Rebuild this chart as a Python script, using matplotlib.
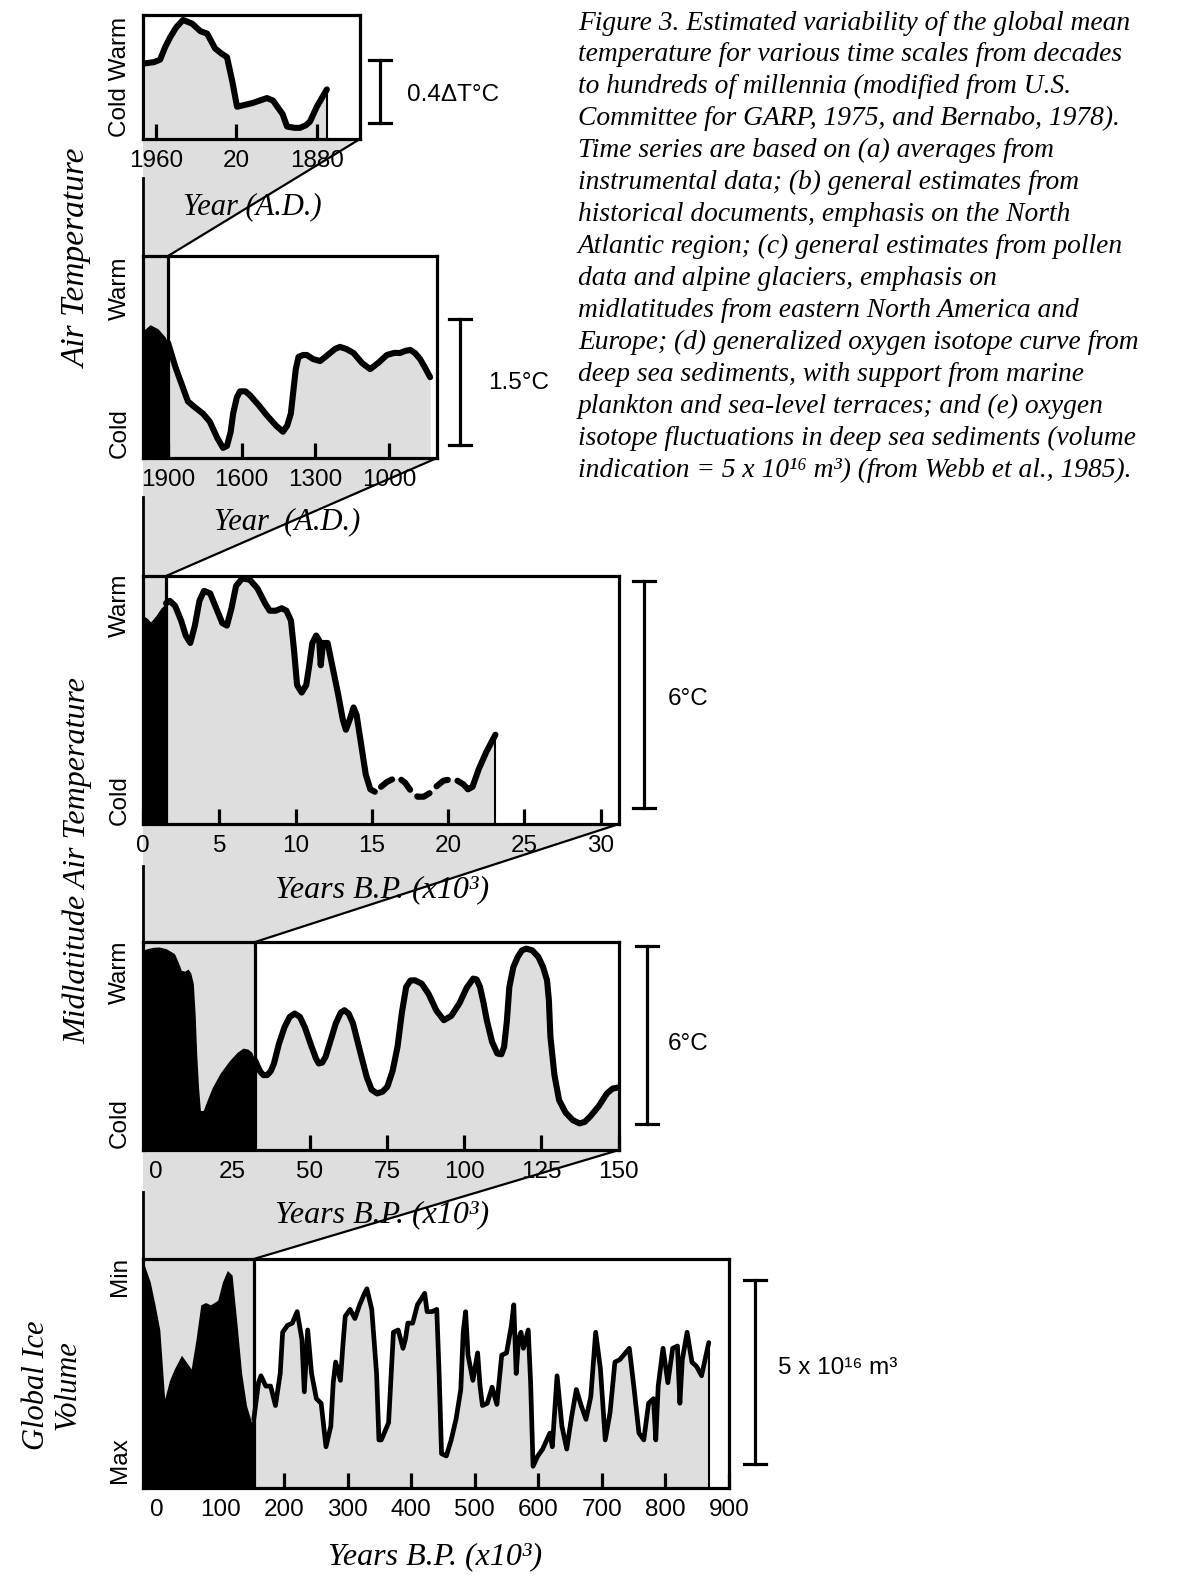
import numpy as np
import matplotlib
matplotlib.use("Agg")
import matplotlib.pyplot as plt

plt.rcParams['font.family'] = ['Liberation Sans', 'DejaVu Sans']

W, H = 1181, 1578
GRAY = "#dedede"
SERIF = ['Liberation Serif', 'DejaVu Serif']

# ---------------- data (0 = cold / max ice, 1 = warm / min ice) ----------------
# (a) instrumental averages, years A.D.
a_year = [1965.5, 1961, 1958, 1955.5, 1953, 1950, 1946.6, 1942, 1938, 1934.6, 1930.6,
          1927.5, 1924.7, 1922, 1919.7, 1912, 1904.8, 1901.8, 1897, 1894.8, 1891,
          1888.4, 1885.5, 1883.4, 1880, 1875]
a_temp = [0.61, 0.62, 0.64, 0.74, 0.82, 0.90, 0.96, 0.93, 0.87, 0.85, 0.73,
          0.69, 0.66, 0.46, 0.26, 0.29, 0.33, 0.31, 0.20, 0.10, 0.09,
          0.09, 0.11, 0.14, 0.26, 0.40]
a_ticks = [1960, 1920, 1880]
a_ticklabels = ['1960', '20', '1880']

# (b) historical documents, years A.D.
b_strip_year = [2002, 1973, 1941, 1912, 1900]
b_strip_temp = [0.63, 0.66, 0.64, 0.60, 0.57]
b_year = [1900, 1870, 1840, 1819, 1790, 1758, 1730, 1700, 1676, 1660, 1645, 1635, 1620,
          1607, 1585, 1566, 1530, 1497, 1460, 1432, 1415, 1400, 1390, 1380, 1369, 1350,
          1335, 1310, 1281, 1260, 1240, 1220, 1200, 1175, 1145, 1110, 1077, 1045, 1009,
          980, 955, 935, 914, 895, 874, 855, 833]
b_temp = [0.57, 0.45, 0.35, 0.28, 0.25, 0.22, 0.18, 0.10, 0.05, 0.06, 0.13, 0.22, 0.30,
          0.33, 0.33, 0.31, 0.26, 0.21, 0.16, 0.13, 0.16, 0.22, 0.33, 0.44, 0.50, 0.51,
          0.51, 0.49, 0.48, 0.50, 0.52, 0.54, 0.55, 0.54, 0.52, 0.47, 0.44, 0.47, 0.51,
          0.52, 0.52, 0.53, 0.535, 0.52, 0.49, 0.45, 0.40]
b_ticks = [1900, 1600, 1300, 1000]

# (c) pollen and alpine glaciers, thousand years B.P.
c_strip_k = [0.0, 0.27, 0.5, 0.84, 1.17, 1.51]
c_strip_v = [0.84, 0.83, 0.815, 0.84, 0.87, 0.89]
c_k = [1.51, 1.75, 2.1, 2.5, 2.8, 3.1, 3.4, 3.7, 4.0, 4.4, 4.8, 5.2, 5.5, 5.8, 6.1, 6.5,
       7.0, 7.5, 8.0, 8.3, 8.7, 9.1, 9.4, 9.7, 9.9, 10.1, 10.4, 10.7, 10.9, 11.1, 11.35,
       11.55, 11.65, 11.8, 12.1, 12.4, 12.8, 13.1, 13.3, 13.6, 13.8, 14.0, 14.3, 14.6,
       14.9, 15.2]
c_v = [0.89, 0.90, 0.88, 0.82, 0.76, 0.73, 0.80, 0.90, 0.94, 0.93, 0.87, 0.81, 0.80,
       0.87, 0.96, 0.99, 0.985, 0.95, 0.89, 0.86, 0.86, 0.87, 0.86, 0.82, 0.70, 0.56,
       0.53, 0.56, 0.64, 0.73, 0.76, 0.74, 0.64, 0.73, 0.73, 0.64, 0.52, 0.42, 0.38,
       0.43, 0.47, 0.44, 0.32, 0.20, 0.14, 0.13]
c_gap_k = [15.6, 16.0, 16.5, 16.9, 17.2, 17.6, 18.0, 18.4, 18.8, 19.2, 19.7, 20.2, 20.6,
           21.0, 21.3]
c_gap_v = [0.15, 0.17, 0.185, 0.18, 0.165, 0.13, 0.11, 0.11, 0.125, 0.15, 0.175, 0.18,
           0.175, 0.16, 0.14]
c_end_k = [21.3, 21.6, 22.0, 22.5, 23.1]
c_end_v = [0.14, 0.15, 0.22, 0.29, 0.36]
c_ticks = [0, 5, 10, 15, 20, 25, 30]

# (d) generalized oxygen isotope curve, thousand years B.P.
d_strip_k = [-4, -2.7, -0.5, 1.2, 3.5, 6.2, 7.5, 8.4, 9.5, 10.6, 11.5, 12.3, 12.9, 13.4,
             14.0, 14.6, 15.5, 16.5, 18.4, 21.0, 24.0, 26.5, 28.4, 30.0, 31.2, 32.3]
d_strip_v = [0.96, 0.968, 0.975, 0.976, 0.968, 0.944, 0.90, 0.864, 0.86, 0.87, 0.85,
             0.80, 0.65, 0.46, 0.30, 0.19, 0.19, 0.23, 0.30, 0.37, 0.43, 0.47, 0.49,
             0.485, 0.47, 0.43]
d_k = [32.3, 33.2, 34.0, 35.0, 36.2, 37.4, 38.4, 40.0, 41.8, 43.5, 45.1, 46.8, 48.4,
       50.5, 52.0, 52.9, 54.0, 55.1, 56.8, 58.4, 60.0, 61.2, 62.6, 64.0, 66.0, 68.4,
       70.0, 71.8, 73.5, 75.1, 76.8, 78.4, 79.8, 81.2, 82.6, 84.0, 86.2, 88.4, 91.0,
       93.4, 95.8, 98.4, 100.8, 102.9, 104.0, 105.1, 106.2, 107.3, 109.0, 110.7, 112.0,
       112.9, 113.8, 114.6, 115.9, 117.3, 118.7, 120.1, 122.0, 124.0, 125.5, 126.8,
       127.4, 127.9, 129.2, 130.7, 132.8, 135.1, 137.3, 139.0, 140.7, 143.5, 146.2,
       148.0, 149.6]
d_v = [0.43, 0.40, 0.376, 0.36, 0.36, 0.38, 0.416, 0.51, 0.59, 0.64, 0.656, 0.64, 0.59,
       0.50, 0.44, 0.416, 0.42, 0.448, 0.53, 0.608, 0.66, 0.672, 0.655, 0.608, 0.49,
       0.352, 0.29, 0.272, 0.28, 0.304, 0.38, 0.496, 0.66, 0.784, 0.815, 0.816, 0.80,
       0.752, 0.67, 0.624, 0.645, 0.704, 0.78, 0.824, 0.82, 0.784, 0.71, 0.624, 0.52,
       0.464, 0.46, 0.496, 0.62, 0.784, 0.88, 0.928, 0.96, 0.968, 0.96, 0.928, 0.88,
       0.816, 0.72, 0.544, 0.36, 0.24, 0.18, 0.144, 0.128, 0.135, 0.16, 0.21, 0.272,
       0.295, 0.30]
d_ticks = [0, 25, 50, 75, 100, 125, 150]

# (e) oxygen isotope fluctuations (global ice volume), thousand years B.P.
e_strip_k = [-22, -10.6, -3.0, 4.5, 12.1, 19.7, 27.3, 38.6, 46.2, 53.8, 61.4, 68.9, 76.5,
             84.1, 95.5, 103.0, 110.6, 118.2, 125.8, 133.3, 140.9, 148.5, 152.3]
e_strip_v = [0.99, 0.90, 0.80, 0.69, 0.39, 0.47, 0.52, 0.58, 0.55, 0.52, 0.65, 0.80, 0.81,
             0.80, 0.82, 0.90, 0.95, 0.93, 0.72, 0.50, 0.36, 0.29, 0.30]
e_k = [152.3, 159.8, 163.6, 171.2, 178.8, 186.4, 193.9, 197.7, 205.3, 212.9,
       220.5, 228.0, 231.8, 237.1, 243.2, 250.8, 258.3, 265.9, 273.5, 277.3,
       281.1, 288.6, 292.4, 296.2, 303.8, 311.4, 318.9, 326.5, 330.3, 337.9,
       345.5, 349.2, 353.0, 364.4, 372.0, 379.5, 387.1, 390.9, 394.7, 402.3,
       409.8, 421.2, 425.0, 432.6, 440.2, 443.9, 447.7, 455.3, 462.9, 470.5,
       478.0, 481.8, 485.6, 489.4, 497.0, 504.5, 508.3, 512.1, 519.7, 527.3,
       534.8, 542.4, 550.0, 557.6, 561.4, 565.2, 568.9, 572.7, 576.5, 584.1,
       587.9, 591.7, 599.2, 606.8, 618.2, 622.0, 629.5, 637.1, 644.7, 652.3,
       659.8, 667.4, 675.0, 682.6, 690.2, 697.7, 705.3, 712.9, 720.5, 728.0,
       743.2, 750.8, 758.3, 765.9, 773.5, 781.1, 784.8, 788.6, 796.2, 803.8,
       811.4, 818.9, 822.7, 826.5, 834.1, 841.7, 849.2, 856.8, 868.2]
e_v = [0.30, 0.46, 0.49, 0.445, 0.445, 0.36, 0.50, 0.68, 0.71, 0.72,
       0.77, 0.65, 0.42, 0.69, 0.50, 0.39, 0.37, 0.18, 0.27, 0.46,
       0.55, 0.47, 0.62, 0.75, 0.78, 0.74, 0.80, 0.85, 0.87, 0.78,
       0.50, 0.21, 0.21, 0.285, 0.68, 0.69, 0.61, 0.65, 0.72, 0.72,
       0.80, 0.85, 0.77, 0.77, 0.78, 0.50, 0.15, 0.14, 0.21, 0.30,
       0.43, 0.68, 0.77, 0.58, 0.47, 0.59, 0.445, 0.36, 0.37, 0.44,
       0.365, 0.58, 0.59, 0.71, 0.80, 0.50, 0.65, 0.68, 0.61, 0.69,
       0.46, 0.095, 0.14, 0.17, 0.24, 0.18, 0.49, 0.27, 0.17, 0.31,
       0.43, 0.36, 0.30, 0.40, 0.68, 0.52, 0.21, 0.33, 0.55, 0.56,
       0.61, 0.43, 0.24, 0.21, 0.37, 0.39, 0.21, 0.445, 0.61, 0.46,
       0.61, 0.62, 0.37, 0.56, 0.68, 0.55, 0.53, 0.49, 0.635]
e_ticks = [0, 100, 200, 300, 400, 500, 600, 700, 800, 900]

caption_lines = [
    "Figure 3. Estimated variability of the global mean",
    "temperature for various time scales from decades",
    "to hundreds of millennia (modified from U.S.",
    "Committee for GARP, 1975, and Bernabo, 1978).",
    "Time series are based on (a) averages from",
    "instrumental data; (b) general estimates from",
    "historical documents, emphasis on the North",
    "Atlantic region; (c) general estimates from pollen",
    "data and alpine glaciers, emphasis on",
    "midlatitudes from eastern North America and",
    "Europe; (d) generalized oxygen isotope curve from",
    "deep sea sediments, with support from marine",
    "plankton and sea-level terraces; and (e) oxygen",
    "isotope fluctuations in deep sea sediments (volume",
    "indication = 5 x 10\u00b9\u2076 m\u00b3) (from Webb et al., 1985).",
]

# ---------------- layout (pixel boxes: x0, y0, x1, y1) ----------------
box_a = (143, 15, 360, 139)
box_b = (143, 256, 437, 458)
box_c = (143, 576, 619, 824)
box_d = (143, 942, 619, 1150)
box_e = (143, 1259, 729, 1488)

fig = plt.figure(figsize=(W / 100, H / 100), dpi=100)
bg = fig.add_axes([0, 0, 1, 1], zorder=0)
bg.set_xlim(0, W)
bg.set_ylim(H, 0)
bg.axis('off')


def panel(box, xlim, ticks, labels=None):
    x0, y0, x1, y1 = box
    ax = fig.add_axes([x0 / W, 1 - y1 / H, (x1 - x0) / W, (y1 - y0) / H], zorder=2)
    ax.set_xlim(*xlim)
    ax.set_ylim(0, 1)
    ax.set_yticks([])
    ax.set_xticks(ticks)
    ax.set_xticklabels(labels if labels else [str(t) for t in ticks])
    for s in ax.spines.values():
        s.set_linewidth(2.3)
    ax.tick_params(axis='x', direction='in', length=11, width=2.3, pad=8,
                   labelsize=17.5, top=False)
    return ax


def px_of(box, xlim, value):
    x0, _, x1, _ = box
    return x0 + (value - xlim[0]) / (xlim[1] - xlim[0]) * (x1 - x0)


def funnel(top, bottom, edge_px, vline_from):
    poly = [(top[0], top[3]), (top[2], top[3]), (edge_px, bottom[1]), (bottom[0], bottom[1])]
    bg.fill([p[0] for p in poly], [p[1] for p in poly], color=GRAY, lw=0, zorder=0)
    bg.plot([top[2], edge_px], [top[3], bottom[1]], color='black', lw=1.6, zorder=1)
    bg.plot([top[0], top[0]], [vline_from, bottom[1]], color='black', lw=2.0, zorder=1)


def strip(ax, xs, vs):
    ax.fill_between(xs, vs, 1, color=GRAY, lw=0, zorder=1)
    ax.fill_between(xs, 0, vs, color='black', lw=0, zorder=2)
    ax.axvline(xs[-1], color='black', lw=2.3, zorder=4)


def curve(ax, xs, vs, lw=4.4, **kw):
    ax.plot(xs, vs, color='black', lw=lw, solid_joinstyle='round',
            solid_capstyle='round', clip_on=False, zorder=3, **kw)


# (a)
xlim_a = (1966.5, 1858.5)
ax_a = panel(box_a, xlim_a, a_ticks, a_ticklabels)
ax_a.fill_between(a_year, 0, a_temp, color=GRAY, lw=0, zorder=1)
ax_a.vlines(a_year[-1], 0, a_temp[-1], color='black', lw=1.5, zorder=2)
curve(ax_a, a_year, a_temp)

# (b)
xlim_b = (2002, 805)
ax_b = panel(box_b, xlim_b, b_ticks)
strip(ax_b, b_strip_year, b_strip_temp)
ax_b.fill_between(b_year, 0, b_temp, color=GRAY, lw=0, zorder=1)
curve(ax_b, b_year, b_temp)

# (c)
xlim_c = (0, 31.2)
ax_c = panel(box_c, xlim_c, c_ticks)
strip(ax_c, c_strip_k, c_strip_v)
c_all_k = c_k + c_gap_k + c_end_k
c_all_v = c_v + c_gap_v + c_end_v
ax_c.fill_between(c_all_k, 0, c_all_v, color=GRAY, lw=0, zorder=1)
ax_c.vlines(c_end_k[-1], 0, c_end_v[-1], color='black', lw=1.5, zorder=2)
curve(ax_c, c_k, c_v)
ax_c.plot(c_gap_k, c_gap_v, color='black', lw=4.4, ls=(0, (2.2, 1.6)),
          dash_capstyle='round', zorder=3)
curve(ax_c, c_end_k, c_end_v)

# (d)
xlim_d = (-4, 150.1)
ax_d = panel(box_d, xlim_d, d_ticks)
strip(ax_d, d_strip_k, d_strip_v)
ax_d.fill_between(d_k, 0, d_v, color=GRAY, lw=0, zorder=1)
curve(ax_d, d_k, d_v)

# (e)
xlim_e = (-22, 900)
ax_e = panel(box_e, xlim_e, e_ticks)
strip(ax_e, e_strip_k, e_strip_v)
ax_e.fill_between(e_k, 0, e_v, color=GRAY, lw=0, zorder=1)
ax_e.vlines(e_k[-1], 0, e_v[-1], color='black', lw=1.5, zorder=2)
curve(ax_e, e_k, e_v, lw=3.4)

# zoom funnels between panels
funnel(box_a, box_b, px_of(box_b, xlim_b, b_strip_year[-1]), 178)
funnel(box_b, box_c, px_of(box_c, xlim_c, c_strip_k[-1]), 497)
funnel(box_c, box_d, px_of(box_d, xlim_d, d_strip_k[-1]), 866)
funnel(box_d, box_e, px_of(box_e, xlim_e, e_strip_k[-1]), 1192)


# scale bars
def ibar(x, y0, y1, cap=11):
    bg.plot([x, x], [y0, y1], color='black', lw=2.3)
    bg.plot([x - cap, x + cap], [y0, y0], color='black', lw=2.3)
    bg.plot([x - cap, x + cap], [y1, y1], color='black', lw=2.3)


ibar(380, 60, 123)
bg.text(407, 95, "0.4\u0394T\u00b0C", fontsize=17.5, va='center')
ibar(460, 319, 445)
bg.text(488, 383, "1.5\u00b0C", fontsize=17.5, va='center')
ibar(644, 581, 808)
bg.text(668, 699, "6\u00b0C", fontsize=17.5, va='center')
ibar(647, 946, 1124)
bg.text(668, 1044, "6\u00b0C", fontsize=17.5, va='center')
ibar(755, 1280, 1464)
bg.text(778, 1368, "5 x 10\u00b9\u2076 m\u00b3", fontsize=17.5, va='center')

# panel letters
for lab, x, y in [("(a)", 327, 47), ("(b)", 408, 292), ("(c)", 587, 611),
                  ("(d)", 589, 972), ("(e)", 694, 1296)]:
    bg.text(x, y, lab, fontsize=17.5, ha='center', va='center', zorder=5)

# warm / cold labels
for lab, y in [("Cold Warm", 77), ("Warm", 288), ("Cold", 433), ("Warm", 605),
               ("Cold", 800), ("Warm", 972), ("Cold", 1123), ("Min", 1276), ("Max", 1460)]:
    bg.text(120, y, lab, fontsize=17.5, rotation=90, ha='center', va='center')

# axis titles
for lab, x, y, fs in [("Year (A.D.)", 252, 207, 22), ("Year  (A.D.)", 287, 522, 22),
                      ("Years B.P. (x10\u00b3)", 382, 890, 23),
                      ("Years B.P. (x10\u00b3)", 382, 1215, 23),
                      ("Years B.P. (x10\u00b3)", 435, 1557, 23)]:
    bg.text(x, y, lab, fontsize=fs, family=SERIF, style='italic', ha='center',
            va='center', zorder=3)

bg.text(78, 258, "Air Temperature", fontsize=24, family=SERIF, style='italic',
        rotation=90, ha='center', va='center')
bg.text(78, 860, "Midlatitude Air Temperature", fontsize=23, family=SERIF, style='italic',
        rotation=90, ha='center', va='center')
bg.text(52, 1385, "Global Ice\nVolume", fontsize=22, family=SERIF, style='italic',
        rotation=90, ha='center', va='center', linespacing=1.1)

# caption
for i, line in enumerate(caption_lines):
    bg.text(578, 23 + i * 31.95, line, fontsize=19.8, family=SERIF, style='italic',
            ha='left', va='center')

fig.savefig("out.png", dpi=100, facecolor='white')
